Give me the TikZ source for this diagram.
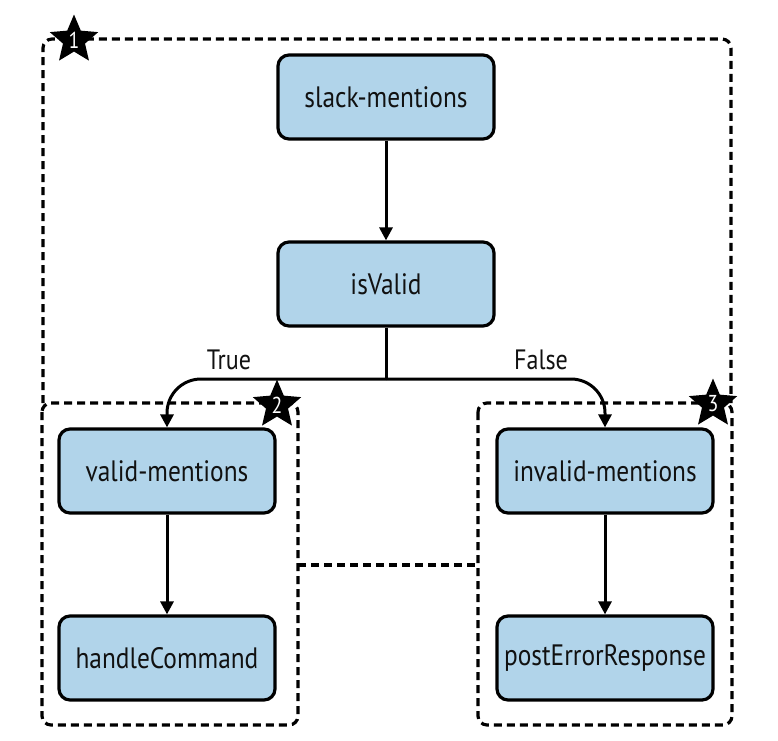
\documentclass[tikz,border=0pt]{standalone}
\usepackage{fontspec}
\setmainfont[FakeStretch=0.86]{PT Sans}
\usetikzlibrary{shapes.geometric,arrows.meta}
\definecolor{boxblue}{HTML}{B1D4EA}
\definecolor{txt}{HTML}{111111}
\tikzset{
  proc/.style={draw=black, line width=3.2pt, fill=boxblue, rounded corners=11pt,
    minimum width=216pt, minimum height=84pt, inner sep=0pt,
    font=\fontsize{29.5}{32}\selectfont, text=txt},
  arr/.style={line width=3pt, -{Triangle[length=13pt,width=13pt]}},
  plain/.style={line width=3pt},
  grp/.style={line width=3.2pt, dash pattern=on 8pt off 5pt, rounded corners=9pt},
  badge/.style={star, star points=5, star point ratio=2.2, fill=black,
    minimum size=50pt, inner sep=0pt, text=white,
    font=\fontsize{23}{23}\selectfont},
  lbl/.style={font=\fontsize{28}{30}\selectfont, text=txt}
}
\begin{document}
\begin{tikzpicture}[x=1pt,y=-1pt]
\useasboundingbox (0,0) rectangle (778,740);
% groups
\draw[grp] (43,403) -- (43,39) -- (731,39) -- (731,403);
\draw[grp] (42,403) rectangle (298,725);
\draw[grp] (478,403) rectangle (732,725);
\draw[line width=3.2pt, dash pattern=on 8pt off 5pt] (298,565) -- (478,565);
% nodes
\node[proc] (slack) at (386,97) {slack-mentions};
\node[proc] (isvalid) at (386,284) {isValid};
\node[proc] (valid) at (167,471) {valid-mentions};
\node[proc] (handle) at (167,658) {handleCommand};
\node[proc] (invalid) at (605,471) {invalid-mentions};
\node[proc] (post) at (605,658) {postErrorResponse};
\coordinate (split) at (386,379);
% connectors
\draw[arr] (slack) -- (isvalid);
\draw[plain] (isvalid) -- (split);
\draw[arr, rounded corners=34pt] (split) -| (valid.north);
\draw[arr, rounded corners=34pt] (split) -| (invalid.north);
\draw[arr] (valid) -- (handle);
\draw[arr] (invalid) -- (post);
\node[lbl] (ltrue) at (229,360) {True};
\node[lbl] (lfalse) at (541,360) {False};
% badges
\node[badge] (b1) at (74,40) {1};
\node[badge] (b2) at (277,405) {2};
\node[badge] (b3) at (713,404) {3};
\end{tikzpicture}
\end{document}
